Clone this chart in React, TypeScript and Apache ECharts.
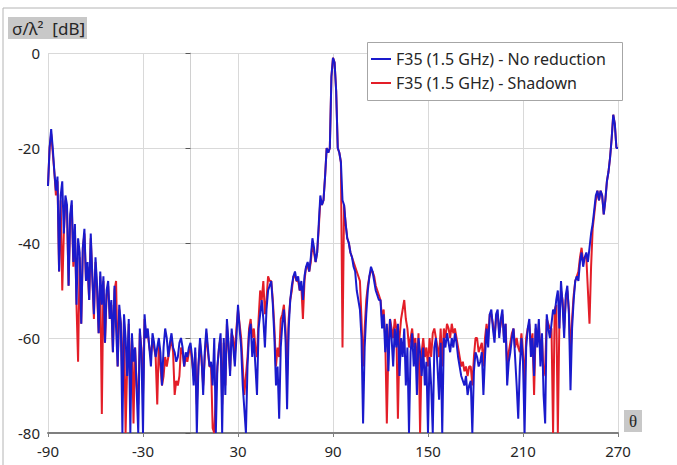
import React, { useEffect, useRef } from "react";
import * as echarts from "echarts";

// Sampling grid (degrees)
const THETA_START = -90;
const THETA_STEP = 1;

// Y-axis ticks (dB) and x-axis ticks (degrees)
const yTicks = [-80, -60, -40, -20, 0];
const xTicks = [-90, -30, 30, 90, 150, 210, 270];

// F35 (1.5 GHz) - No reduction, sigma/lambda^2 in dB, theta = -90..270 step 1
const noReduction = [
  -28, -20, -16, -20, -25, -29, -26, -46, -30, -27,
  -38, -30, -32, -49, -34, -31, -44, -36, -53, -39,
  -42, -57, -41, -37, -48, -44, -52, -38, -47, -55,
  -43, -49, -59, -46, -53, -47, -61, -50, -48, -56,
  -52, -63, -49, -58, -66, -53, -57, -80, -55, -60,
  -68, -56, -80, -59, -65, -62, -71, -80, -58, -63,
  -80, -55, -60, -58, -62, -66, -59, -61, -64, -62,
  -60, -63, -70, -62, -58, -60, -64, -61, -59, -62,
  -63, -65, -64, -61, -60, -62, -66, -63, -64, -62,
  -61, -64, -70, -62, -80, -66, -60, -64, -72, -63,
  -58, -62, -66, -65, -70, -60, -80, -66, -62, -59,
  -80, -60, -72, -56, -61, -68, -58, -62, -66, -60,
  -53, -58, -62, -70, -75, -80, -66, -59, -57, -64,
  -60, -66, -72, -58, -55, -52, -56, -62, -54, -50,
  -49, -48, -53, -60, -70, -66, -77, -62, -57, -54,
  -60, -75, -58, -52, -49, -47, -46, -48, -47, -50,
  -48, -52, -47, -45, -44, -46, -43, -39, -41, -44,
  -42, -36, -30, -32, -31, -26, -20, -21, -20, -5,
  -1, -2, -8, -20, -21, -23, -31, -32, -36, -39,
  -40, -42, -43, -45, -46, -50, -52, -54, -60, -78,
  -62, -55, -50, -47, -45, -46, -48, -50, -51, -52,
  -52, -58, -55, -63, -57, -67, -56, -60, -66, -58,
  -62, -57, -68, -60, -64, -58, -70, -62, -80, -63,
  -59, -66, -61, -72, -60, -63, -68, -62, -70, -65,
  -80, -64, -70, -80, -62, -60, -66, -73, -61, -80,
  -60, -62, -59, -61, -63, -60, -62, -59, -61, -64,
  -66, -68, -69, -70, -68, -72, -70, -69, -80, -67,
  -63, -64, -66, -65, -63, -72, -64, -58, -62, -55,
  -54, -58, -61, -55, -54, -60, -56, -54, -61, -57,
  -70, -65, -63, -60, -58, -64, -70, -77, -66, -60,
  -65, -80, -62, -58, -56, -64, -60, -68, -57, -62,
  -56, -66, -59, -72, -78, -55, -58, -60, -57, -54,
  -55, -52, -50, -58, -48, -53, -60, -51, -49, -55,
  -71, -58, -52, -48, -47, -48, -44, -42, -45, -43,
  -42, -44, -41, -38, -36, -33, -30, -29, -31, -29,
  -30, -34, -31, -27, -25, -22, -18, -13, -15, -20, -20,
];

// F35 (1.5 GHz) - Shadown, sigma/lambda^2 in dB, theta = -90..270 step 1
const shadown = [
  -28, -20, -17, -21, -25, -30, -27, -46, -31, -50,
  -38, -31, -33, -49, -35, -32, -45, -37, -53, -65,
  -43, -57, -41, -38, -48, -45, -52, -39, -47, -56,
  -44, -50, -59, -47, -76, -48, -61, -51, -49, -56,
  -53, -63, -50, -48, -66, -54, -57, -70, -56, -80,
  -66, -57, -72, -60, -78, -62, -70, -74, -59, -62,
  -72, -56, -60, -59, -62, -64, -60, -62, -64, -74,
  -61, -66, -70, -68, -64, -66, -64, -62, -60, -63,
  -72, -69, -70, -68, -62, -63, -66, -64, -65, -63,
  -62, -65, -68, -63, -74, -66, -61, -65, -70, -64,
  -59, -63, -66, -66, -79, -80, -72, -66, -62, -60,
  -74, -61, -70, -57, -62, -67, -59, -60, -64, -58,
  -54, -57, -60, -66, -72, -68, -64, -58, -56, -60,
  -58, -62, -64, -56, -50, -52, -48, -55, -52, -47,
  -48, -48, -52, -58, -66, -62, -64, -56, -55, -53,
  -58, -68, -56, -52, -50, -47, -47, -48, -48, -50,
  -49, -56, -48, -45, -45, -46, -44, -40, -42, -44,
  -42, -37, -31, -32, -31, -26, -20, -21, -20, -5,
  -1, -2, -8, -20, -21, -23, -62, -32, -36, -39,
  -40, -42, -43, -44, -45, -46, -47, -48, -56, -66,
  -58, -52, -49, -47, -46, -46, -47, -49, -50, -51,
  -52, -56, -54, -60, -78, -62, -56, -58, -60, -56,
  -58, -77, -60, -56, -54, -52, -56, -58, -62, -60,
  -58, -62, -60, -66, -59, -80, -63, -60, -64, -62,
  -66, -60, -64, -59, -58, -60, -62, -64, -58, -66,
  -58, -60, -57, -58, -60, -57, -59, -58, -60, -62,
  -64, -66, -65, -67, -66, -68, -66, -66, -70, -64,
  -60, -60, -63, -62, -61, -66, -60, -57, -60, -55,
  -55, -57, -60, -56, -55, -59, -57, -55, -60, -57,
  -66, -63, -61, -59, -58, -62, -60, -62, -63, -59,
  -63, -70, -60, -58, -57, -62, -59, -72, -58, -61,
  -57, -63, -60, -68, -66, -56, -57, -58, -58, -80,
  -54, -53, -80, -56, -50, -52, -58, -52, -50, -54,
  -64, -56, -51, -48, -47, -46, -43, -41, -44, -43,
  -43, -50, -57, -45, -37, -34, -31, -29, -31, -29,
  -30, -34, -31, -27, -25, -22, -18, -13, -15, -20, -20,
];

const seriesNames = ["F35 (1.5 GHz) - No reduction", "F35 (1.5 GHz) - Shadown"];

const toPairs = (vals: number[]) => vals.map((v, i) => [THETA_START + i * THETA_STEP, v]);

const FONT = "'Noto Sans', 'Open Sans', sans-serif";
const BLUE = "#1a1acc";
const RED = "#e31e28";

export default function App() {
  const ref = useRef<HTMLDivElement>(null);
  useEffect(() => {
    if (!ref.current) return;
    const chart = echarts.init(ref.current, null, { renderer: "svg" });
    chart.setOption({
      animation: false,
      backgroundColor: "#ffffff",
      grid: { left: 48, top: 53, width: 570, height: 380, containLabel: false },
      xAxis: {
        type: "value",
        min: xTicks[0],
        max: xTicks[xTicks.length - 1],
        interval: 60,
        axisLine: { show: true, onZero: false, lineStyle: { color: "#7f7f7f", width: 2 } },
        axisTick: { show: true, length: 4, lineStyle: { color: "#7f7f7f" } },
        axisLabel: { color: "#262626", fontSize: 15, fontFamily: FONT, margin: 10 },
        splitLine: { show: true, lineStyle: { color: "#d9d9d9", width: 1 } },
      },
      yAxis: {
        type: "value",
        min: yTicks[0],
        max: yTicks[yTicks.length - 1],
        interval: 20,
        axisLine: { show: true, lineStyle: { color: "#d0d0d0", width: 1 } },
        axisTick: { show: true, length: 5, lineStyle: { color: "#595959" } },
        axisLabel: { color: "#262626", fontSize: 15, fontFamily: FONT, margin: 8 },
        splitLine: { show: true, lineStyle: { color: "#d9d9d9", width: 1 } },
      },
      legend: {
        orient: "vertical",
        left: 367,
        top: 42,
        padding: [8, 8, 8, 4],
        itemGap: 6,
        itemWidth: 20,
        itemHeight: 2,
        icon: "rect",
        data: [seriesNames[0], seriesNames[1]],
        textStyle: { color: "#262626", fontSize: 16, fontFamily: FONT, lineHeight: 18 },
        z: 10,
      },
      graphic: [
        { type: "line", shape: { x1: 3, y1: 8, x2: 677, y2: 8 }, style: { stroke: "#b4b4b4", lineWidth: 1 }, z: 1 },
        { type: "line", shape: { x1: 3, y1: 8, x2: 3, y2: 465 }, style: { stroke: "#b4b4b4", lineWidth: 1 }, z: 1 },
        {
          type: "rect",
          shape: { x: 367.5, y: 42.5, width: 255, height: 58 },
          style: { fill: "#ffffff", stroke: "#a6a6a6", lineWidth: 1 },
          z: 5,
        },
        {
          type: "rect",
          shape: { x: 8, y: 17, width: 79, height: 22 },
          style: { fill: "#c8c8c8" },
          z: 5,
        },
        {
          type: "text",
          x: 12,
          y: 28,
          style: {
            text: "σ/λ²  [dB]",
            fill: "#262626",
            font: `17px ${FONT}`,
            verticalAlign: "middle",
          },
          z: 6,
        },
        {
          type: "rect",
          shape: { x: 624, y: 410, width: 18, height: 22 },
          style: { fill: "#c8c8c8" },
          z: 5,
        },
        {
          type: "text",
          x: 633,
          y: 421,
          style: {
            text: "θ",
            fill: "#262626",
            font: "17px 'Liberation Serif', 'DejaVu Serif', serif",
            align: "center",
            verticalAlign: "middle",
          },
          z: 6,
        },
      ],
      series: [
        {
          name: seriesNames[1],
          type: "line",
          data: toPairs(shadown),
          showSymbol: false,
          symbol: "none",
          lineStyle: { color: RED, width: 2 },
          itemStyle: { color: RED },
          z: 2,
        },
        {
          name: seriesNames[0],
          type: "line",
          data: toPairs(noReduction),
          showSymbol: false,
          symbol: "none",
          lineStyle: { color: BLUE, width: 2 },
          itemStyle: { color: BLUE },
          z: 3,
        },
      ],
    });
    return () => chart.dispose();
  }, []);
  return (
    <div
      ref={ref}
      style={{ position: "absolute", left: 0, top: 0, width: 677, height: 465 }}
    />
  );
}
